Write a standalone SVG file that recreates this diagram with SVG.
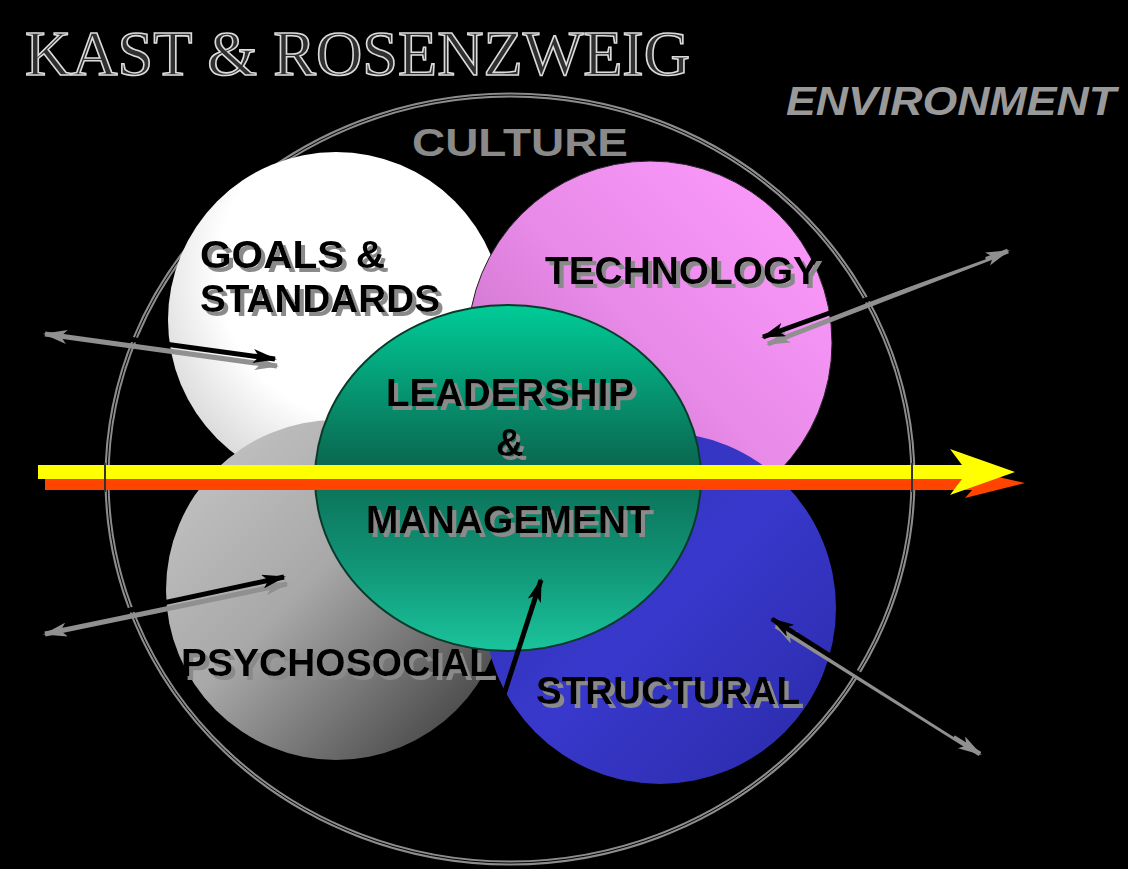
<svg xmlns="http://www.w3.org/2000/svg" width="1128" height="869" viewBox="0 0 1128 869">
<defs>
<radialGradient id="gWhite" cx="0.6" cy="0.35" r="0.75"><stop offset="0" stop-color="#ffffff"/><stop offset="0.6" stop-color="#ffffff"/><stop offset="1" stop-color="#d0d0d0"/></radialGradient>
<linearGradient id="gPink" x1="1" y1="0" x2="0" y2="1"><stop offset="0" stop-color="#ff9cff"/><stop offset="0.5" stop-color="#e88ae8"/><stop offset="1" stop-color="#b864b8"/></linearGradient>
<linearGradient id="gGrey" x1="0" y1="0" x2="1" y2="1"><stop offset="0" stop-color="#c8c8c8"/><stop offset="0.45" stop-color="#a8a8a8"/><stop offset="1" stop-color="#303030"/></linearGradient>
<linearGradient id="gBlue" x1="0" y1="0" x2="1" y2="1"><stop offset="0" stop-color="#3030b0"/><stop offset="0.5" stop-color="#3838cc"/><stop offset="1" stop-color="#2a2aa8"/></linearGradient>
<linearGradient id="gGreen" x1="0" y1="0" x2="0" y2="1"><stop offset="0" stop-color="#00cc98"/><stop offset="0.45" stop-color="#0a6a52"/><stop offset="0.75" stop-color="#119476"/><stop offset="1" stop-color="#1ac49c"/></linearGradient>
<filter id="shadow" x="-5%" y="-20%" width="115%" height="150%">
<feOffset in="SourceAlpha" dx="4" dy="4" result="o"/>
<feFlood flood-color="#8a8a8a"/>
<feComposite in2="o" operator="in" result="s"/>
<feMerge><feMergeNode in="s"/><feMergeNode in="SourceGraphic"/></feMerge>
</filter>
<marker id="ahB" viewBox="0 0 24 14" refX="22" refY="7" markerWidth="24" markerHeight="14" markerUnits="userSpaceOnUse" orient="auto"><path d="M0,0 L24,7 L0,14 L6,7 Z" fill="#000"/></marker>
<marker id="ahG" viewBox="0 0 24 14" refX="22" refY="7" markerWidth="24" markerHeight="14" markerUnits="userSpaceOnUse" orient="auto"><path d="M0,0 L24,7 L0,14 L6,7 Z" fill="#909090"/></marker>
<marker id="tlG" viewBox="0 0 24 14" refX="22" refY="7" markerWidth="24" markerHeight="14" markerUnits="userSpaceOnUse" orient="auto-start-reverse"><path d="M0,0 L24,7 L0,14 L6,7 Z" fill="#909090"/></marker>
</defs>
<style>
.lbl{font-family:"Liberation Sans",Arial,sans-serif;font-weight:bold;font-size:38px;fill:#000;filter:url(#shadow)}
.arB{stroke:#000;stroke-width:5;fill:none;marker-end:url(#ahB)}
.arG{stroke:#909090;stroke-width:5;fill:none;marker-end:url(#ahG);marker-start:url(#tlG)}
</style>
<rect width="1128" height="869" fill="#000"/>

<g id="title">
<text x="25" y="75" font-family="'Liberation Serif','Times New Roman',serif" font-size="64" fill="#303030" stroke="#dcdcdc" stroke-width="1.6" textLength="665" lengthAdjust="spacingAndGlyphs">KAST &amp; ROSENZWEIG</text>
</g>
<g id="environment">
<text x="786" y="115" font-family="'Liberation Sans',Arial,sans-serif" font-weight="bold" font-style="italic" font-size="40" fill="#999" textLength="330" lengthAdjust="spacingAndGlyphs">ENVIRONMENT</text>
</g>

<g id="culture-ring">
<ellipse cx="510" cy="479" rx="403" ry="384" fill="none" stroke="#8c8c8c" stroke-width="5"/>
<ellipse cx="510" cy="479" rx="403" ry="384" fill="none" stroke="#000" stroke-width="1"/>
<text x="412" y="156" font-family="'Liberation Sans',Arial,sans-serif" font-weight="bold" font-size="39" fill="#8a8a8a" textLength="216" lengthAdjust="spacingAndGlyphs">CULTURE</text>
</g>

<g id="goals">
<circle cx="336" cy="320" r="168" fill="url(#gWhite)"/>
</g>
<g id="technology">
<circle cx="650" cy="343" r="182" fill="url(#gPink)" stroke="#222" stroke-width="1"/>
</g>
<g id="psychosocial">
<circle cx="336" cy="590" r="170" fill="url(#gGrey)"/>
</g>
<g id="structural">
<circle cx="660" cy="608" r="176" fill="url(#gBlue)"/>
</g>
<g id="leadership">
<ellipse cx="508" cy="478" rx="193" ry="173" fill="url(#gGreen)" stroke="#0a3a2a" stroke-width="2"/>
</g>

<g id="labels">
<text class="lbl" x="200" y="268" textLength="185" lengthAdjust="spacingAndGlyphs">GOALS  &amp;</text>
<text class="lbl" x="200" y="312" textLength="240" lengthAdjust="spacingAndGlyphs">STANDARDS</text>
<text class="lbl" x="545" y="284" textLength="274" lengthAdjust="spacingAndGlyphs">TECHNOLOGY</text>
<text class="lbl" x="386" y="406" textLength="248" lengthAdjust="spacingAndGlyphs">LEADERSHIP</text>
<text class="lbl" x="496" y="456" font-size="32">&amp;</text>
<text class="lbl" x="366" y="533" textLength="284" lengthAdjust="spacingAndGlyphs">MANAGEMENT</text>
<text class="lbl" x="181" y="676" textLength="312" lengthAdjust="spacingAndGlyphs">PSYCHOSOCIAL</text>
<text class="lbl" x="536" y="704" textLength="264" lengthAdjust="spacingAndGlyphs">STRUCTURAL</text>
</g>

<g id="connectors">
<path d="M45,478 H968 L960,468 L1025,483 L965,498 L972,490 H45 Z" fill="#ff4400"/>
<path d="M38,465 H962 L950,449 L1015,472 L950,495 L962,479 H38 Z" fill="#ffff00"/>
<line x1="105" y1="463" x2="105" y2="492" stroke="#333" stroke-width="2"/>
<line x1="912" y1="463" x2="912" y2="492" stroke="#333" stroke-width="2"/>
<line class="arG" x1="45" y1="334" x2="277" y2="366"/>
<line class="arB" x1="70" y1="331" x2="275" y2="359"/>
<line class="arG" x1="1008" y1="251" x2="768" y2="344"/>
<line class="arB" x1="985" y1="257" x2="763" y2="337"/>
<line class="arG" x1="45" y1="634" x2="287" y2="584"/>
<line class="arB" x1="70" y1="623" x2="284" y2="577"/>
<line class="arB" x1="497" y1="716" x2="541" y2="580"/>
<line class="arG" x1="980" y1="754" x2="776" y2="626"/>
<line class="arB" x1="955" y1="735" x2="772" y2="619"/>
</g>
</svg>
